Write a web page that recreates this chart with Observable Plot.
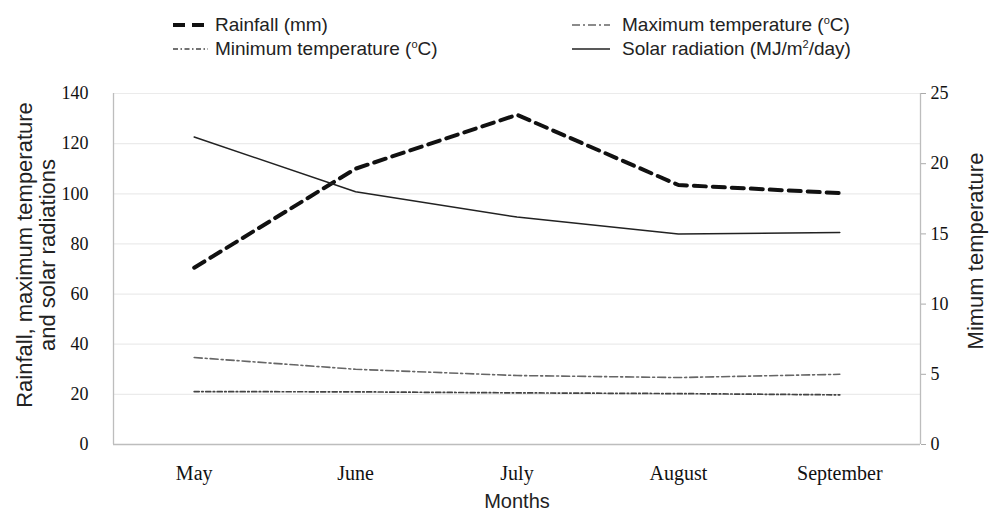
<!DOCTYPE html>
<html><head><meta charset="utf-8">
<script src="https://cdn.jsdelivr.net/npm/d3@7"></script>
<script src="https://cdn.jsdelivr.net/npm/@observablehq/plot@0.6"></script>
<style>
body{margin:0;background:#fff;width:990px;height:520px;overflow:hidden;font-family:"Liberation Sans",Arial,sans-serif;}
#legend{position:relative;height:65px;width:990px;}
.item{position:absolute;height:24px;display:flex;align-items:center;font-size:19px;color:#222;white-space:nowrap;}
.item svg{display:block;}
sup{font-size:11px;line-height:0;vertical-align:7px;}
#chart svg{display:block;overflow:visible;}
</style>
</head><body>
<div id="legend"></div>
<div id="chart"></div>
<script>
const months = ["May", "June", "July", "August", "September"];
const rainfall = [70.5, 110, 131.5, 103.5, 100.3];
const maxTemp = [34.7, 30, 27.5, 26.7, 28];
const minTemp = [21.1, 21, 20.6, 20.3, 19.8];
const solarRadiation = [21.9, 18, 16.2, 15, 15.1];
const leftTicks = [0, 20, 40, 60, 80, 100, 120, 140];
const rightTicks = [0, 5, 10, 15, 20, 25];
const legendLabels = ["Rainfall (mm)", "Minimum temperature (<sup>o</sup>C)", "Maximum temperature (<sup>o</sup>C)", "Solar radiation (MJ/m<sup>2</sup>/day)"];

const leftMax = 140, rightMax = 25, k = leftMax / rightMax;
const sans = "'Liberation Sans', Arial, sans-serif";
const serif = "'Liberation Serif', 'Times New Roman', serif";

const styles = [
  {stroke: "#111", strokeWidth: 4, dash: "12,7"},
  {stroke: "#444", strokeWidth: 1.7, dash: "5,2.5,1.5,2.5"},
  {stroke: "#666", strokeWidth: 1.6, dash: "8,3,2,3"},
  {stroke: "#222", strokeWidth: 1.5, dash: null}
];
const legendPos = [
  {left: 173, top: 13, sw: 35, gap: 7},
  {left: 173, top: 37, sw: 35, gap: 7},
  {left: 572, top: 13, sw: 38, gap: 12},
  {left: 572, top: 37, sw: 38, gap: 12}
];
const legend = document.getElementById("legend");
legendLabels.forEach((lab, i) => {
  const p = legendPos[i], s = styles[i];
  const div = document.createElement("div");
  div.className = "item";
  div.style.left = p.left + "px";
  div.style.top = p.top + "px";
  div.innerHTML = `<svg width="${p.sw}" height="10" style="margin-right:${p.gap}px"><line x1="0" x2="${p.sw}" y1="5" y2="5" stroke="${s.stroke}" stroke-width="${s.strokeWidth}" ${s.dash ? `stroke-dasharray="${s.dash}"` : ""}/></svg><span>${lab}</span>`;
  legend.appendChild(div);
});

const rows = (vals, f = 1) => months.map((m, i) => ({x: i + 0.5, y: vals[i] * f, month: m}));

const lineMark = (data, s) => Plot.line(data, {x: "x", y: "y", stroke: s.stroke, strokeWidth: s.strokeWidth, strokeDasharray: s.dash || undefined});

const chart = Plot.plot({
  width: 990,
  height: 455,
  marginTop: 28,
  marginBottom: 76,
  marginLeft: 113,
  marginRight: 70,
  style: {fontFamily: serif, color: "#111", background: "#fff", overflow: "visible"},
  x: {domain: [0, months.length]},
  y: {domain: [0, leftMax]},
  marks: [
    Plot.ruleY(leftTicks.filter(t => t > 0), {stroke: "#ebebeb", strokeWidth: 1.2}),
    Plot.ruleY([0], {stroke: "#bdbdbd", strokeWidth: 1.3}),
    Plot.ruleX([0, months.length], {stroke: "#bdbdbd", strokeWidth: 1.3}),
    Plot.axisY(leftTicks, {anchor: "left", tickSize: 0, tickPadding: 25, label: null, fontSize: 18, fontFamily: serif}),
    Plot.axisY(rightTicks.map(t => t * k), {anchor: "right", tickSize: 5, tickPadding: 5, label: null, fontSize: 18, fontFamily: serif, stroke: "#aaa", fill: "#111", tickFormat: d => String(Math.round(d / k))}),
    Plot.axisX(months.map((m, i) => i + 0.5), {tickSize: 0, tickPadding: 21, label: null, fontSize: 20, fontFamily: serif, tickFormat: d => months[Math.floor(d)]}),
    lineMark(rows(rainfall), styles[0]),
    lineMark(rows(minTemp), styles[1]),
    lineMark(rows(maxTemp), styles[2]),
    lineMark(rows(solarRadiation, k), styles[3]),
    Plot.text(["Rainfall, maximum temperature\nand solar radiations"], {text: d => d, frameAnchor: "left", textAnchor: "middle", lineAnchor: "middle", rotate: -90, dx: -77, dy: -14, fontSize: 22, lineHeight: 1.02, fill: "#222", fontFamily: sans}),
    Plot.text(["Mimum temperature"], {text: d => d, frameAnchor: "right", textAnchor: "middle", lineAnchor: "middle", rotate: -90, dx: 55, dy: -18, fontSize: 22, fill: "#222", fontFamily: sans}),
    Plot.text(["Months"], {text: d => d, frameAnchor: "bottom", textAnchor: "middle", lineAnchor: "middle", dy: 57, fontSize: 20, fill: "#222", fontFamily: sans})
  ]
});
document.getElementById("chart").appendChild(chart);
</script>
</body></html>
